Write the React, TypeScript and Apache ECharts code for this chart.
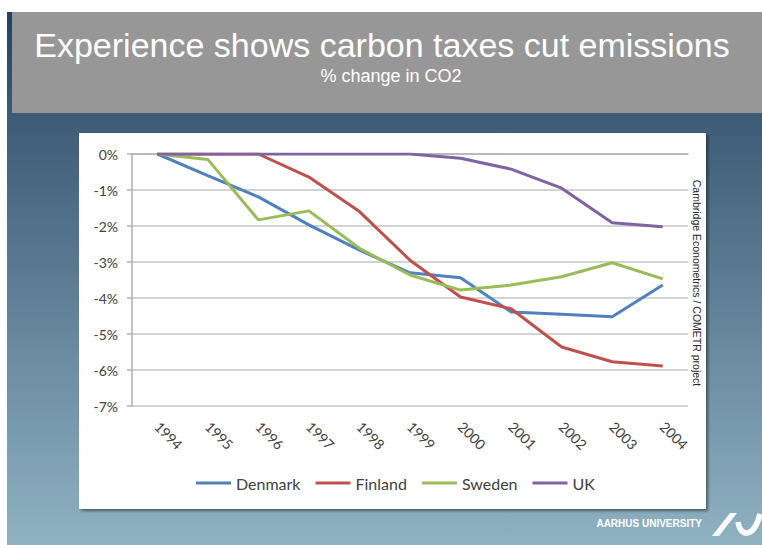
import React, { useEffect, useRef } from "react";
import * as echarts from "echarts";

const years = ["1994", "1995", "1996", "1997", "1998", "1999", "2000", "2001", "2002", "2003", "2004"];
const denmark = [0, -0.6, -1.19, -1.97, -2.67, -3.3, -3.44, -4.39, -4.45, -4.52, -3.64];
const finland = [0, 0, 0, -0.64, -1.6, -2.95, -3.97, -4.3, -5.36, -5.77, -5.89];
const sweden = [0, -0.15, -1.83, -1.58, -2.62, -3.36, -3.78, -3.64, -3.41, -3.02, -3.47];
const uk = [0, 0, 0, 0, 0, 0, -0.12, -0.42, -0.95, -1.91, -2.02];

const seriesNames = ["Denmark", "Finland", "Sweden", "UK"];
const seriesColors = ["#4F81BD", "#C0504D", "#9BBB59", "#8064A2"];
const seriesData = [denmark, finland, sweden, uk];

const yTicks = { min: -7, max: 0, interval: 1 };

const title = "Experience shows carbon taxes cut emissions";
const subtitle = "% change in CO2";
const sourceNote = "Cambridge Econometrics / COMETR project";
const brand = "AARHUS UNIVERSITY";

export default function App() {
  const ref = useRef<HTMLDivElement>(null);
  useEffect(() => {
    if (!ref.current) return;
    echarts.graphic.registerShape(
      "aulogo",
      echarts.graphic.extendPath("M0 23 L18 0 L25 0 L7 23 Z", {})
    );
    const chart = echarts.init(ref.current, null, { renderer: "svg" });
    const option: any = {
      animation: false,
      backgroundColor: "#ffffff",
      graphic: [
        {
          type: "rect",
          z: -10,
          shape: { x: 7, y: 12, width: 755, height: 533 },
          style: {
            fill: new echarts.graphic.LinearGradient(0, 0, 0, 1, [
              { offset: 0, color: "#24415f" },
              { offset: 0.2, color: "#3e5b77" },
              { offset: 1, color: "#8fb2c2" },
            ]),
          },
        },
        {
          type: "rect",
          z: -9,
          shape: { x: 12, y: 12, width: 750, height: 101 },
          style: { fill: "#979797" },
        },
        {
          type: "rect",
          z: -8,
          shape: { x: 79, y: 133, width: 627, height: 376 },
          style: {
            fill: "#ffffff",
            shadowBlur: 3,
            shadowColor: "rgba(0,0,0,0.45)",
            shadowOffsetX: 2,
            shadowOffsetY: 2,
          },
        },
        {
          type: "text",
          x: 382,
          y: 45,
          style: {
            text: title,
            fill: "#ffffff",
            font: '34px "Liberation Sans", Arial, sans-serif',
            align: "center",
            verticalAlign: "middle",
          },
        },
        {
          type: "text",
          x: 391,
          y: 76,
          style: {
            text: subtitle,
            fill: "#ffffff",
            font: '18px "Liberation Sans", Arial, sans-serif',
            align: "center",
            verticalAlign: "middle",
          },
        },
        {
          type: "text",
          x: 697,
          y: 283,
          rotation: -Math.PI / 2,
          style: {
            text: sourceNote,
            fill: "#262626",
            font: '10.5px "Liberation Sans", Arial, sans-serif',
            align: "center",
            verticalAlign: "middle",
          },
        },
        {
          type: "text",
          x: 702,
          y: 523,
          style: {
            text: brand,
            fill: "#ffffff",
            font: 'bold 10px "Liberation Sans", Arial, sans-serif',
            align: "right",
            verticalAlign: "middle",
          },
        },
        {
          type: "aulogo",
          x: 712,
          y: 513,
          style: { fill: "#ffffff" },
        },
        {
          type: "bezierCurve",
          shape: { x1: 738, y1: 522, cpx1: 740, cpy1: 537, cpx2: 754, cpy2: 539, x2: 760, y2: 514 },
          style: { stroke: "#ffffff", lineWidth: 5.5, fill: "none" },
        },
      ],
      grid: { left: 132, right: 74, top: 154, bottom: 139, containLabel: false },
      legend: {
        left: 191,
        top: 470,
        icon: "rect",
        itemWidth: 35,
        itemHeight: 3,
        itemGap: 15,
        textStyle: { fontFamily: "Lato", fontSize: 16, color: "#404040" },
        data: seriesNames,
      },
      xAxis: {
        type: "category",
        data: years,
        boundaryGap: true,
        axisLine: { lineStyle: { color: "#b0b0b0", width: 1.5 } },
        axisTick: { show: false },
        axisLabel: { rotate: -45, fontFamily: "Lato", fontSize: 14, color: "#404040", margin: 18 },
        splitLine: { show: false },
      },
      yAxis: {
        type: "value",
        min: yTicks.min,
        max: yTicks.max,
        interval: yTicks.interval,
        axisLine: { show: true, lineStyle: { color: "#b0b0b0", width: 1.5 } },
        axisTick: { show: true, length: 5, lineStyle: { color: "#b0b0b0", width: 1.5 } },
        axisLabel: {
          fontFamily: "Lato",
          fontSize: 14,
          color: "#404040",
          margin: 14,
          formatter: (v: number) => `${Math.round(v)}%`,
        },
        splitLine: { lineStyle: { color: "#c4c4c4", width: 1.5 } },
      },
      series: seriesNames.map((name, i) => ({
        name,
        type: "line",
        data: seriesData[i],
        symbol: "none",
        lineStyle: { color: seriesColors[i], width: 3 },
        itemStyle: { color: seriesColors[i] },
        z: 2 + i,
      })),
    };
    chart.setOption(option);
    return () => chart.dispose();
  }, []);
  return (
    <div
      ref={ref}
      style={{ position: "fixed", left: 0, top: 0, width: 762, height: 545 }}
    />
  );
}
